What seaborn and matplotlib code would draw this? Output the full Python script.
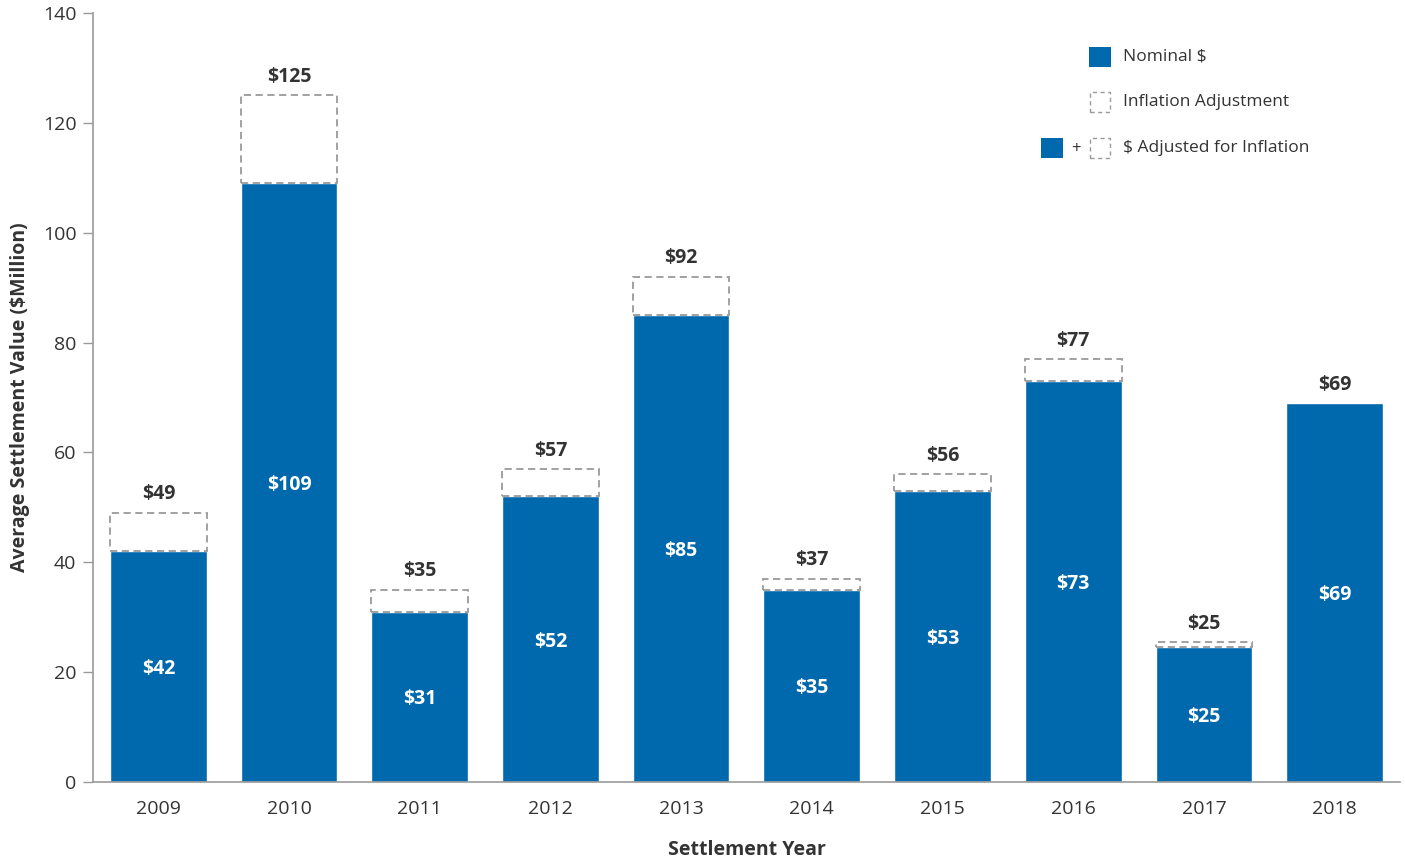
import matplotlib
matplotlib.use("Agg")
import matplotlib.pyplot as plt
from matplotlib.patches import Rectangle
import numpy as np
import pandas as pd
import seaborn as sns

years = ["2009", "2010", "2011", "2012", "2013", "2014", "2015", "2016", "2017", "2018"]
nominal = [42, 109, 31, 52, 85, 35, 53, 73, 24.6, 69]
adjusted = [49, 125, 35, 57, 92, 37, 56, 77, 25.4, 69]

BLUE = "#0068AC"
GRAY = "#9a9a9a"
TEXT = "#333333"

sns.set_theme(style="white")
plt.rcParams["font.family"] = ["Open Sans", "DejaVu Sans"]

df = pd.DataFrame({"year": years, "nominal": nominal, "adjusted": adjusted})

fig = plt.figure(figsize=(14.05, 8.65), dpi=100)
ax = fig.add_axes([0.0662, 0.096, 0.9302, 0.889])

sns.barplot(data=df, x="year", y="nominal", color=BLUE, saturation=1,
            width=0.74, ax=ax, zorder=2)

pos = np.arange(len(years))
extra = df["adjusted"] - df["nominal"]
for x, base, h in zip(pos, df["nominal"], extra):
    if h > 0:
        ax.bar(x, h, bottom=base, width=0.74, facecolor="white",
               edgecolor=GRAY, linestyle=(0, (4, 2.5)), linewidth=1.3, zorder=3)

for x, n, a in zip(pos, df["nominal"], df["adjusted"]):
    ax.text(x, n / 2, f"${n:.0f}", ha="center", va="center_baseline", color="white",
            fontsize=14, fontweight="bold", zorder=4)
    ax.text(x, a + 3.8, f"${a:.0f}", ha="center", va="center_baseline", color=TEXT,
            fontsize=14, fontweight="bold", zorder=4)

ax.set_xlim(-0.5, len(years) - 0.5)
ax.set_ylim(0, 140)
ax.set_yticks(range(0, 141, 20))
ax.set_xticks(pos)
ax.set_xticks(np.arange(-0.5, len(years), 1.0), minor=True)
ax.tick_params(axis="x", which="major", length=0, pad=13, labelsize=14, labelcolor=TEXT)
ax.tick_params(axis="x", which="minor", length=7, width=1, color=GRAY, direction="out")
ax.tick_params(axis="y", length=7, width=1, color=GRAY, direction="out", pad=5,
               labelsize=14, labelcolor=TEXT, left=True)

for side in ["top", "right"]:
    ax.spines[side].set_visible(False)
for side in ["left", "bottom"]:
    ax.spines[side].set_color(GRAY)
    ax.spines[side].set_linewidth(1.2)

ax.set_xlabel("Settlement Year", fontsize=14, fontweight="bold", color=TEXT, labelpad=16)
ax.set_ylabel("Average Settlement Value ($Million)", fontsize=14, fontweight="bold",
              color=TEXT, labelpad=9)
ax.grid(False)

# Legend built from patches in figure pixel coordinates
W, H = 1405, 865


def fbox(px, py, w, h):
    return (px / W, 1 - (py + h) / H, w / W, h / H)


def blue_square(cx, cy):
    x, y, w, h = fbox(cx - 11, cy - 10, 22, 20)
    fig.patches.append(Rectangle((x, y), w, h, transform=fig.transFigure,
                                 facecolor=BLUE, edgecolor="none"))


def dashed_square(cx, cy):
    x, y, w, h = fbox(cx - 10, cy - 10, 20, 20)
    fig.patches.append(Rectangle((x, y), w, h, transform=fig.transFigure,
                                 facecolor="white", edgecolor=GRAY,
                                 linestyle=(0, (3, 2.5)), linewidth=1.0))


blue_square(1100, 57)
dashed_square(1100, 102)
blue_square(1052, 148)
dashed_square(1100, 148)
fig.text(1076 / W, 1 - 149 / H, "+", ha="center", va="center", fontsize=12, color=TEXT)
for ty, label in [(57, "Nominal $"), (102, "Inflation Adjustment"), (148, "$ Adjusted for Inflation")]:
    fig.text(1123 / W, 1 - ty / H, label, ha="left", va="center", fontsize=12.5, color=TEXT)

fig.savefig("out.png", dpi=100)
